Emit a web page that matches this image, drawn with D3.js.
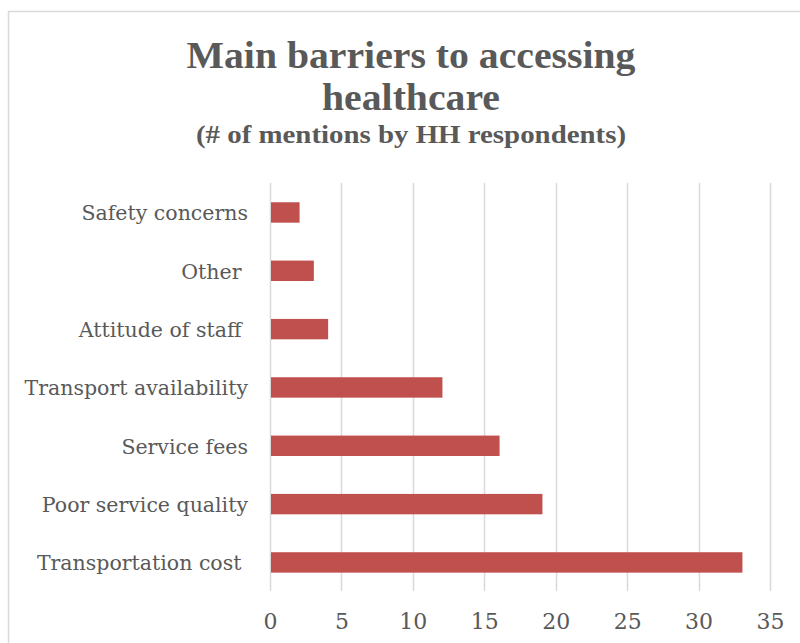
<!DOCTYPE html>
<html>
<head>
<meta charset="utf-8">
<script src="https://cdn.jsdelivr.net/npm/d3@7"></script>
<style>
  body { margin: 0; background: #fff; }
  text { fill: #595959; font-family: "DejaVu Serif", serif; }
</style>
</head>
<body>
<div id="vis"></div>
<script>
// bars, top to bottom
const categories = ["Safety concerns", "Other ", "Attitude of staff ", "Transport availability",
    "Service fees", "Poor service quality", "Transportation cost "];
const values = [2, 3, 4, 12, 16, 19, 33];
const xTicks = [0, 5, 10, 15, 20, 25, 30, 35];
const titleLines = ["Main barriers to accessing", "healthcare"];
const subtitle = "(# of mentions by HH respondents)";

function createVis() {
    const width = 800;
    const height = 643;

    const svg = d3.select("#vis").append("svg")
        .attr("width", width)
        .attr("height", height);

    // chart border (runs off right and bottom edges)
    svg.append("rect")
        .attr("x", 8.5)
        .attr("y", 11.5)
        .attr("width", 820)
        .attr("height", 660)
        .attr("fill", "none")
        .attr("stroke", "#d9d9d9")
        .attr("stroke-width", 1.5)

    const xScale = d3.scaleLinear()
        .domain([0, 35])
        .range([270, 770])

    const yScale = d3.scaleBand()
        .domain(categories)
        .range([183.3, 591.6])
        .paddingInner(0.65)
        .paddingOuter(0.325)

    // gridlines
    svg.append("g")
        .selectAll("line")
        .data(xTicks)
        .join("line")
        .attr("x1", d => Math.round(xScale(d)) + 0.5)
        .attr("x2", d => Math.round(xScale(d)) + 0.5)
        .attr("y1", 183)
        .attr("y2", 591)
        .attr("stroke", "#d9d9d9")
        .attr("stroke-width", 1.5)

    // x tick labels
    const xAxis = d3.axisBottom(xScale).tickValues(xTicks).tickSize(0).tickPadding(0);
    const gx = svg.append("g")
        .attr("transform", "translate(0,613)")
        .call(xAxis)
    gx.select(".domain").remove()
    gx.selectAll("text")
        .attr("fill", "#595959")
        .style("font-size", "22px")
        .style("font-family", "'DejaVu Serif', serif")

    // bars
    svg.append("g")
        .selectAll("rect")
        .data(values)
        .join("rect")
        .attr("x", xScale(0) + 1)
        .attr("y", (d, i) => yScale(categories[i]))
        .attr("width", d => xScale(d) - xScale(0))
        .attr("height", yScale.bandwidth())
        .attr("fill", "#c0504d")

    // category labels
    svg.append("g")
        .selectAll("text")
        .data(categories)
        .join("text")
        .attr("x", 248)
        .attr("y", d => yScale(d) + yScale.bandwidth() / 2 + 8)
        .attr("text-anchor", "end")
        .style("white-space", "pre")
        .style("font-size", "20.5px")
        .text(d => d)

    // title
    svg.selectAll(".title")
        .data(titleLines)
        .join("text")
        .attr("class", "title")
        .attr("x", 411)
        .attr("y", (d, i) => 68 + i * 42)
        .attr("text-anchor", "middle")
        .attr("textLength", (d, i) => i === 0 ? 449 : 178)
        .attr("lengthAdjust", "spacingAndGlyphs")
        .style("font-family", "'Liberation Serif', serif")
        .style("font-size", "37px")
        .style("font-weight", "bold")
        .text(d => d)

    svg.append("text")
        .attr("x", 411)
        .attr("y", 143)
        .attr("text-anchor", "middle")
        .attr("textLength", 430)
        .attr("lengthAdjust", "spacingAndGlyphs")
        .style("font-family", "'Liberation Serif', serif")
        .style("font-size", "26px")
        .style("font-weight", "bold")
        .text(subtitle)
}

window.addEventListener('load', createVis);
</script>
</body>
</html>
